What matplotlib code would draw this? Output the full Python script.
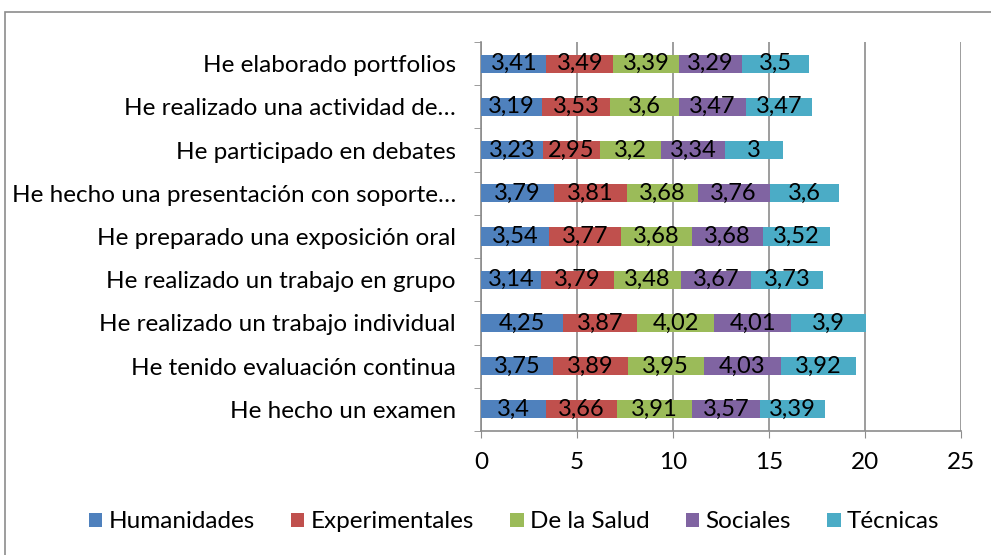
import matplotlib.pyplot as plt
import matplotlib.patches as mpatches
import numpy as np

plt.rcParams['font.family'] = ['Lato', 'DejaVu Sans']

# Categories listed bottom to top
categories = [
    'He hecho un examen',
    'He tenido evaluación continua',
    'He realizado un trabajo individual',
    'He realizado un trabajo en grupo',
    'He preparado una exposición oral',
    'He hecho una presentación con soporte…',
    'He participado en debates',
    'He realizado una actividad de…',
    'He elaborado portfolios',
]

series_names = ['Humanidades', 'Experimentales', 'De la Salud', 'Sociales', 'Técnicas']

humanidades = [3.40, 3.75, 4.25, 3.14, 3.54, 3.79, 3.23, 3.19, 3.41]
experimentales = [3.66, 3.89, 3.87, 3.79, 3.77, 3.81, 2.95, 3.53, 3.49]
salud = [3.91, 3.95, 4.02, 3.48, 3.68, 3.68, 3.20, 3.60, 3.39]
sociales = [3.57, 4.03, 4.01, 3.67, 3.68, 3.76, 3.34, 3.47, 3.29]
tecnicas = [3.39, 3.92, 3.90, 3.73, 3.52, 3.60, 3.00, 3.47, 3.50]

colors = ['#4F81BD', '#C0504D', '#9BBB59', '#8064A2', '#4BACC6']
grid_color = '#8c8c8c'
fs = 17.5

W, H = 991, 555
fig = plt.figure(figsize=(W / 100, H / 100), dpi=100)
ax = fig.add_axes([481 / W, 1 - 431 / H, 480 / W, 389 / H])

# Outer chart frame (only left and top edges visible)
fig.patches.append(mpatches.Rectangle((5 / W, -0.2), 1.2, 1 - 12 / H + 0.2,
                                      transform=fig.transFigure, fill=False,
                                      edgecolor='#8c8c8c', linewidth=1.2))


def fmt(v):
    s = ('%.2f' % v).rstrip('0').rstrip('.')
    return s.replace('.', ',')


y = np.arange(len(categories))
left = np.zeros(len(categories))
for name, vals, c in zip(series_names, [humanidades, experimentales, salud, sociales, tecnicas], colors):
    vals = np.array(vals)
    ax.barh(y, vals, left=left, height=0.42, color=c, label=name, zorder=3)
    for yi, l, v in zip(y, left, vals):
        ax.text(l + v / 2, yi, fmt(v), ha='center', va='center',
                fontsize=17, color='black', zorder=4)
    left += vals

ax.set_xlim(0, 25)
ax.set_ylim(-0.5, len(categories) - 0.5)
ax.set_xticks([0, 5, 10, 15, 20, 25])
ax.set_yticks(y)
ax.set_yticklabels(categories)
ax.set_yticks(np.arange(-0.5, len(categories), 1), minor=True)
ax.tick_params(axis='y', which='major', length=0, labelsize=fs, pad=18)
ax.tick_params(axis='y', which='minor', length=5, color=grid_color, direction='out')
ax.tick_params(axis='x', length=5, color=grid_color, labelsize=fs, pad=10)

ax.grid(axis='x', color=grid_color, linewidth=1.2, zorder=0)
for s in ['top', 'right']:
    ax.spines[s].set_visible(False)
for s in ['left', 'bottom']:
    ax.spines[s].set_color(grid_color)
    ax.spines[s].set_linewidth(1.2)

fig.legend(loc='center', bbox_to_anchor=(514 / W, 1 - 522 / H), ncol=5,
           frameon=False, fontsize=fs, handlelength=0.55, handleheight=0.55,
           handletextpad=0.25, columnspacing=1.5)

fig.savefig('out.png', dpi=100)
